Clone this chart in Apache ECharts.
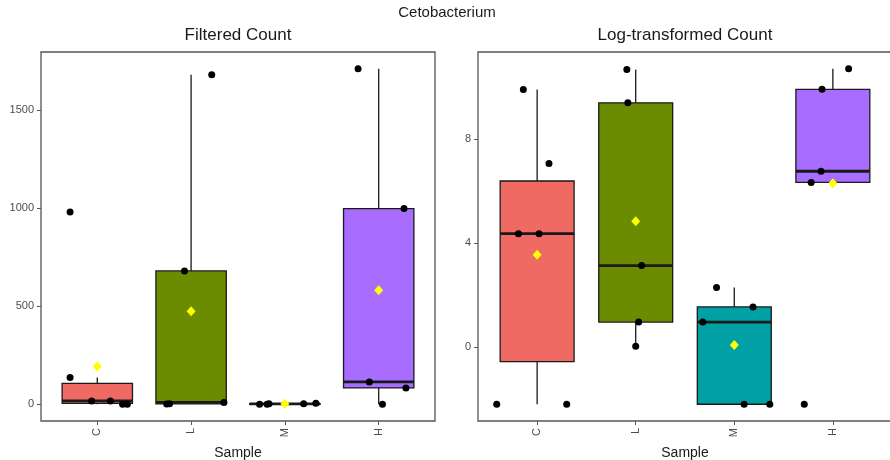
<!DOCTYPE html>
<html><head><meta charset="utf-8">
<script src="https://cdn.jsdelivr.net/npm/echarts@6/dist/echarts.min.js"></script>
<style>html,body{margin:0;padding:0;background:#fff}#c{width:890px;height:460px}</style>
</head><body><div id="c"></div>
<script>
// ---------- data ----------
const categories = ['C', 'L', 'M', 'H'];
const chartTitle = 'Cetobacterium';
const panelTitles = ['Filtered Count', 'Log-transformed Count'];
const xAxisName = 'Sample';
const countTicks = [0, 500, 1000, 1500];
const logTicks = [0, 4, 8];

// Filtered Count (raw values) + horizontal jitter offsets
const countC = [981, 136, 17, 17, 0, 0];
const jitterCountC = [-0.29, -0.29, -0.06, 0.14, 0.27, 0.32];
const countL = [1, 2, 680, 1680, 9];
const jitterCountL = [-0.26, -0.23, -0.07, 0.22, 0.35];
const countM = [0, 0, 2, 3, 5];
const jitterCountM = [-0.27, -0.19, -0.17, 0.20, 0.33];
const countH = [1711, 998, 114, 83, 0];
const jitterCountH = [-0.22, 0.27, -0.10, 0.29, 0.04];

// Log-transformed Count + horizontal jitter offsets
const logC = [-2.19, 9.91, 4.37, 4.37, 7.07, -2.19];
const jitterLogC = [-0.41, -0.14, -0.19, 0.02, 0.12, 0.30];
const logL = [10.68, 9.40, 3.14, 0.97, 0.04];
const jitterLogL = [-0.09, -0.08, 0.06, 0.03, 0.00];
const logM = [2.30, 1.55, 0.97, -2.19, -2.19];
const jitterLogM = [-0.18, 0.19, -0.32, 0.10, 0.36];
const logH = [10.71, 9.92, 6.77, 6.34, -2.19];
const jitterLogH = [0.16, -0.11, -0.12, -0.22, -0.29];

// ---------- styling ----------
const fills = ['#EE6A63', '#6B8C00', '#00A0A5', '#A86CFF'];
const FONT = 'Liberation Sans, Arial, Helvetica, sans-serif';
const INK = '#1a1a1a';

// ---------- helpers ----------
function quantile(sorted, p) {
  const h = (sorted.length - 1) * p;
  const lo = Math.floor(h), hi = Math.ceil(h);
  return sorted[lo] + (h - lo) * (sorted[hi] - sorted[lo]);
}
function boxStats(vals, x) {
  const s = vals.slice().sort((a, b) => a - b);
  const q1 = quantile(s, 0.25), med = quantile(s, 0.5), q3 = quantile(s, 0.75);
  const iqr = q3 - q1;
  const inside = s.filter(v => v >= q1 - 1.5 * iqr && v <= q3 + 1.5 * iqr);
  return [x, inside[0], q1, med, q3, inside[inside.length - 1]];
}
const mean = a => a.reduce((s, v) => s + v, 0) / a.length;

function panelData(groups, jitters) {
  const boxes = [], pts = [], means = [];
  groups.forEach((g, i) => {
    const x = i + 1;
    boxes.push(boxStats(g, x));
    g.forEach((v, j) => pts.push([x + jitters[i][j], v]));
    means.push([x, mean(g)]);
  });
  return { boxes, pts, means };
}

const left = panelData([countC, countL, countM, countH], [jitterCountC, jitterCountL, jitterCountM, jitterCountH]);
const right = panelData([logC, logL, logM, logH], [jitterLogC, jitterLogL, jitterLogM, jitterLogH]);

function renderBox(params, api) {
  const x = api.value(0), lo = api.value(1), q1 = api.value(2), med = api.value(3), q3 = api.value(4), hi = api.value(5);
  const tl = api.coord([x - 0.375, q3]);
  const br = api.coord([x + 0.375, q1]);
  const m = api.coord([x, med]);
  const top = api.coord([x, hi]);
  const bot = api.coord([x, lo]);
  const line = { stroke: INK, lineWidth: 1.3 };
  const children = [];
  if (tl[1] - top[1] > 0.5) children.push({ type: 'line', shape: { x1: m[0], y1: top[1], x2: m[0], y2: tl[1] }, style: line });
  if (bot[1] - br[1] > 0.5) children.push({ type: 'line', shape: { x1: m[0], y1: br[1], x2: m[0], y2: bot[1] }, style: line });
  children.push({ type: 'rect', shape: { x: tl[0], y: tl[1], width: br[0] - tl[0], height: br[1] - tl[1] },
    style: { fill: fills[params.dataIndex], stroke: INK, lineWidth: 1.3 } });
  children.push({ type: 'line', shape: { x1: tl[0], y1: m[1], x2: br[0], y2: m[1] }, style: { stroke: INK, lineWidth: 2.8 } });
  return { type: 'group', children };
}

function xAxisFor(gi) {
  return {
    type: 'value', gridIndex: gi, min: 0.4, max: 4.6, position: 'bottom',
    splitLine: { show: false }, axisLine: { show: false, onZero: false },
    axisTick: { show: true, customValues: [1, 2, 3, 4], length: 4, lineStyle: { color: '#555', width: 1 } },
    axisLabel: { customValues: [1, 2, 3, 4], rotate: 90, margin: 7, color: '#4d4d4d', fontSize: 11, fontFamily: FONT,
      formatter: v => categories[Math.round(v) - 1] },
    name: xAxisName, nameLocation: 'middle', nameGap: 25,
    nameTextStyle: { color: '#1a1a1a', fontSize: 14, fontFamily: FONT }
  };
}
function yAxisFor(gi, min, max, ticks) {
  return {
    type: 'value', gridIndex: gi, min: min, max: max, position: 'left',
    splitLine: { show: false }, axisLine: { show: false, onZero: false },
    axisTick: { show: true, customValues: ticks, length: 4, lineStyle: { color: '#555', width: 1 } },
    axisLabel: { customValues: ticks, margin: 7, color: '#4d4d4d', fontSize: 11, fontFamily: FONT,
      formatter: v => String(v) }
  };
}

const chart = echarts.init(document.getElementById('c'), null, { renderer: 'canvas' });
chart.setOption({
  animation: false,
  backgroundColor: '#fff',
  graphic: [
    { type: 'text', x: 447, y: 13, style: { text: chartTitle, textAlign: 'center', textVerticalAlign: 'middle', fontSize: 15, fontFamily: FONT, fill: '#1a1a1a' } },
    { type: 'text', x: 238, y: 35, style: { text: panelTitles[0], textAlign: 'center', textVerticalAlign: 'middle', fontSize: 17, fontFamily: FONT, fill: '#1a1a1a' } },
    { type: 'text', x: 685, y: 35, style: { text: panelTitles[1], textAlign: 'center', textVerticalAlign: 'middle', fontSize: 17, fontFamily: FONT, fill: '#1a1a1a' } }
  ],
  grid: [
    { left: 41, top: 52, width: 394, height: 369, show: true, borderColor: '#555', borderWidth: 1.3, backgroundColor: 'transparent', outerBoundsMode: 'none', containLabel: false },
    { left: 478, top: 52, width: 414, height: 369, show: true, borderColor: '#555', borderWidth: 1.3, backgroundColor: 'transparent', outerBoundsMode: 'none', containLabel: false }
  ],
  xAxis: [xAxisFor(0), xAxisFor(1)],
  yAxis: [yAxisFor(0, -85.55, 1796.55, countTicks), yAxisFor(1, -2.835, 11.355, logTicks)],
  series: [
    { type: 'custom', xAxisIndex: 0, yAxisIndex: 0, renderItem: renderBox, data: left.boxes, encode: { x: 0, y: [1, 2, 3, 4, 5] }, clip: false },
    { type: 'scatter', xAxisIndex: 0, yAxisIndex: 0, data: left.pts, symbolSize: 7, itemStyle: { color: '#000', opacity: 1 } },
    { type: 'scatter', xAxisIndex: 0, yAxisIndex: 0, data: left.means, symbol: 'diamond', symbolSize: [9, 10], itemStyle: { color: '#FFFF00', opacity: 1 } },
    { type: 'custom', xAxisIndex: 1, yAxisIndex: 1, renderItem: renderBox, data: right.boxes, encode: { x: 0, y: [1, 2, 3, 4, 5] }, clip: false },
    { type: 'scatter', xAxisIndex: 1, yAxisIndex: 1, data: right.pts, symbolSize: 7, itemStyle: { color: '#000', opacity: 1 } },
    { type: 'scatter', xAxisIndex: 1, yAxisIndex: 1, data: right.means, symbol: 'diamond', symbolSize: [9, 10], itemStyle: { color: '#FFFF00', opacity: 1 } }
  ]
});
</script>
</body></html>
